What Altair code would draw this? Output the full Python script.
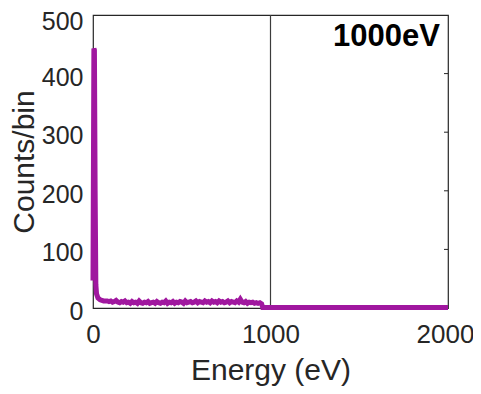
import altair as alt
import pandas as pd

# ---- data ----
peak_energy = [0, 5, 8, 12, 16, 20, 28, 40, 60]
peak_counts = [47, 443, 440, 200, 40, 24, 17, 14, 12]

plateau_energy = list(range(80, 960, 10))
plateau_counts = [12, 11, 12, 10, 11, 13, 10, 9, 11, 10, 12, 9, 10, 8, 11, 9, 10, 8,
                  12, 9, 8, 10, 9, 11, 8, 9, 10, 8, 11, 9, 8, 10, 9, 12, 8, 10, 9, 11,
                  8, 10, 9, 11, 10, 8, 12, 9, 10, 11, 9, 10, 12, 9, 11, 10, 9, 12, 10,
                  11, 9, 12, 10, 11, 9, 12, 10, 11, 9, 10, 12, 9, 11, 10, 9, 12, 10, 15,
                  10, 9, 11, 8, 10, 9, 10, 8, 9, 8, 9, 7]

tail_energy = [956, 1000, 1250, 1500, 1750, 2000]
tail_counts = [1, 1, 1, 1, 1, 1]

x_ticks = [0, 1000, 2000]
y_ticks = [0, 100, 200, 300, 400, 500]
inner_ticks = [100, 200, 300, 400]
marker_energy = [1000]
label_text = ["1000eV"]

energy = peak_energy + plateau_energy + tail_energy
counts = peak_counts + plateau_counts + tail_counts
df = pd.DataFrame({"energy": energy, "counts": counts})

W, H = 355, 293
FONT = "Liberation Sans"
TXT = "#262626"

xscale = alt.Scale(domain=[0, 2000], nice=False, zero=False)
yscale = alt.Scale(domain=[0, 500], nice=False)

xaxis = alt.Axis(values=x_ticks, title="Energy (eV)", format="d", grid=False,
                 domain=False, ticks=False, labelFont=FONT, labelFontSize=26,
                 labelColor=TXT, labelPadding=13, titleFont=FONT, titleFontSize=30,
                 titleFontWeight="normal", titleColor=TXT, titleBaseline="alphabetic",
                 titleY=71, labelFlush=False,
                 labelOffset={"condition": {"test": "datum.value == 2000", "value": -3},
                              "value": 0})
yaxis = alt.Axis(values=y_ticks, title="Counts/bin", format="d", grid=False,
                 domain=False, ticks=False, labelFont=FONT, labelFontSize=25,
                 labelColor=TXT, labelPadding=10, titleFont=FONT, titleFontSize=30,
                 titleFontWeight="normal", titleColor=TXT, titleBaseline="alphabetic",
                 titleX=-60, labelFlush=False,
                 labelOffset={"condition": {"test": "datum.value == 500", "value": 6},
                              "value": 3.5})

line = alt.Chart(df).mark_line(color="#A0179F", strokeWidth=5, strokeJoin="miter").encode(
    x=alt.X("energy:Q", scale=xscale, axis=xaxis),
    y=alt.Y("counts:Q", scale=yscale, axis=yaxis),
)

vline = alt.Chart(pd.DataFrame({"e": marker_energy})).mark_rule(
    color="#3c3c3c", strokeWidth=1.2).encode(
    x=alt.X("e:Q", scale=xscale),
)

rticks = alt.Chart(pd.DataFrame({"v": inner_ticks})).mark_rule(
    color=TXT, strokeWidth=1).encode(
    y=alt.Y("v:Q", scale=yscale),
    x=alt.value(W - 4),
    x2=alt.value(W),
)

label = alt.Chart(pd.DataFrame({"t": label_text})).mark_text(
    font=FONT, fontSize=31, fontWeight="bold", color="black",
    align="right", baseline="alphabetic").encode(
    text="t:N",
    x=alt.value(W - 8),
    y=alt.value(31),
)

chart = alt.layer(vline, rticks, line, label).properties(
    width=W, height=H,
    padding={"left": 85, "top": 7, "right": 25, "bottom": 78},
    autosize=alt.AutoSizeParams(type="none"),
    background="white",
).configure_view(stroke=TXT, strokeWidth=1.2)

chart.save("out.html", embed_options={"renderer": "svg", "actions": False})
